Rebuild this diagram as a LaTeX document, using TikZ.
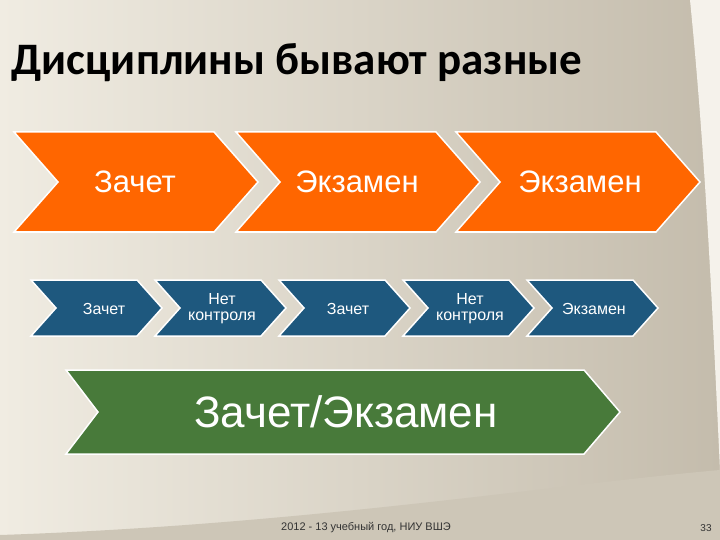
\documentclass[tikz,border=0pt]{standalone}
\usepackage{fontspec}
\setmainfont{Liberation Sans}
\newfontfamily\titlefont{Carlito}
\definecolor{bgl}{RGB}{240,236,226}
\definecolor{bgr}{RGB}{196,188,172}
\definecolor{orng}{RGB}{255,102,0}
\begin{document}
\begin{tikzpicture}[x=1pt,y=-1pt,
  chev/.style={draw=white,line width=1.5pt,line join=miter},
  lbl/.style={text=white,font=\fontsize{#1}{#1}\selectfont,align=center}]
\useasboundingbox (0,0) rectangle (720,540);
\shade[left color=bgl, right color=bgr] (0,0) rectangle (720,540);
\fill[bgl!70!white] (690,0) .. controls (705,150) and (712,300) .. (720,470) -- (720,0) -- cycle;
\fill[bgr!80!bgl] (0,540) -- (0,535) .. controls (300,525) and (550,485) .. (720,470) -- (720,540) -- cycle;
\node[anchor=west,font=\titlefont\bfseries\fontsize{45}{45}\selectfont] (title) at (8,63) {Дисциплины бывают разные};
% orange row
\foreach \x in {14,236,456}{
  \fill[orng,chev] (\x,132) -- (\x+200,132) -- (\x+244,182) -- (\x+200,232) -- (\x,232) -- (\x+44,182) -- cycle;
}
\node[lbl=31] (t1) at (135,182) {Зачет};
\node[lbl=31] (t2) at (357,182) {Экзамен};
\node[lbl=31] (t3) at (580,182) {Экзамен};
% blue row
\foreach \x in {31,155,279,403,527}{
  \fill[fill={rgb,255:red,30;green,88;blue,126},chev] (\x,280) -- (\x+106,280) -- (\x+131,308) -- (\x+106,336) -- (\x,336) -- (\x+25,308) -- cycle;
}
\node[lbl=16] (b1) at (104,309) {Зачет};
\node[lbl=16] (b2) at (222,309) {Нет\\контроля};
\node[lbl=16] (b3) at (348,309) {Зачет};
\node[lbl=16] (b4) at (470,309) {Нет\\контроля};
\node[lbl=16] (b5) at (594,309) {Экзамен};
% green
\fill[fill={rgb,255:red,72;green,122;blue,58},chev] (66,370) -- (584,370) -- (620,412) -- (584,454) -- (66,454) -- (98,412) -- cycle;
\node[lbl=44] (g) at (346,412) {Зачет/Экзамен};
\node[font=\fontsize{11}{11}\selectfont,text=black!80] (f) at (366,528) {2012 - 13 учебный год, НИУ ВШЭ};
\node[font=\fontsize{10}{10}\selectfont,text=black!80] (p) at (706,528) {33};
\end{tikzpicture}
\end{document}
